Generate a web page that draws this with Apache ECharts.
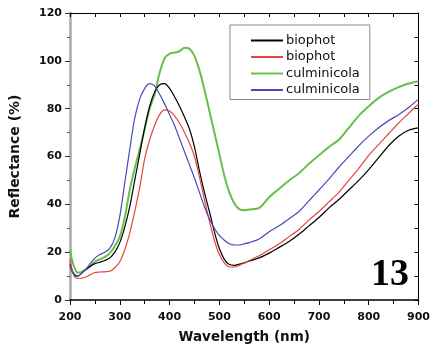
<!DOCTYPE html>
<html>
<head>
<meta charset="utf-8">
<script src="https://cdn.jsdelivr.net/npm/echarts@6/dist/echarts.min.js"></script>
<style>
  html, body { margin: 0; padding: 0; background: #fff; }
  #chart { width: 433px; height: 352px; }
</style>
</head>
<body>
<div id="chart"></div>
<script>
// wavelength samples (nm)
const wavelengths = [200, 205, 210, 215, 220, 230, 240, 250, 260, 270, 280, 290, 300, 310, 320, 330, 340, 350, 360, 370,
  380, 390, 400, 410, 420, 430, 440, 450, 460, 470, 480, 490, 500, 510, 520, 530, 540, 550, 560, 580,
  600, 620, 640, 660, 680, 700, 720, 740, 760, 780, 800, 820, 840, 860, 880, 900]

// reflectance (%)
const biophotBlack = [15, 12, 10.5, 10, 10.5, 12.5, 14, 15.2, 15.8, 16.5, 17.6, 20, 24, 30.5, 39, 50, 61, 72, 81, 87,
  90, 90.5, 88.5, 85, 81, 76.5, 71.5, 64, 54, 45, 37, 28.5, 21.5, 17, 14.8, 14.5, 15, 15.5, 16.3, 17.6,
  19.6, 22, 24.5, 27.5, 31, 34.5, 38.5, 42, 46, 50, 54.5, 59.5, 64.5, 68.5, 71, 72]
const biophotRed = [17, 12, 9.5, 9, 9, 9.5, 10.5, 11.5, 11.7, 11.8, 12, 13.5, 16, 21, 28, 37, 47, 59, 67, 73,
  77.5, 79.5, 79, 77, 74, 70, 65.5, 60, 51.5, 42, 33, 25, 19, 15.5, 13.8, 13.8, 14.5, 15.5, 16.5, 18.5,
  21, 23.5, 26.5, 29.5, 33.5, 37, 41, 45, 50, 55, 60.5, 65, 69.5, 74, 78, 82]
const culminicolaGreen = [21, 16, 13, 11.5, 11.5, 12.5, 14, 16, 17, 18, 19.6, 22.5, 26.5, 34.5, 46, 55, 63, 71.5, 80, 86,
  95, 101, 103, 103.5, 104, 105.5, 105, 102, 96, 88, 79, 70, 61, 52, 45, 40.5, 38, 37.5, 37.8, 38.5,
  43, 46.5, 50, 53, 57, 60.5, 64, 67, 72, 77, 81, 84.5, 87, 89, 90.5, 91.5]
const culminicolaBlue = [14, 11.5, 10, 9.8, 10.5, 12.5, 15, 17.5, 19, 20, 21.6, 26, 35, 49, 63, 76, 84, 88.5, 90.5, 89.5,
  86, 82, 77.5, 73, 67.5, 62, 56.5, 51, 45, 39, 34, 30, 27, 25, 23.5, 23, 23, 23.5, 24, 25.5,
  28.5, 31, 34, 37, 41.5, 46, 50.5, 55.5, 60, 64.5, 68.5, 72, 75, 77.5, 80.5, 84]

const seriesNames = ['biophot', 'biophot', 'culminicola', 'culminicola']
const seriesColors = ['#000000', '#e8453c', '#6abf4b', '#4a4ab8']
const seriesWidths = [1.2, 1.2, 2, 1.2]
const seriesValues = [biophotBlack, biophotRed, culminicolaGreen, culminicolaBlue]

const xTicks = [200, 300, 400, 500, 600, 700, 800, 900]
const yTicks = [0, 20, 40, 60, 80, 100, 120]

const AXIS_FONT = 'DejaVu Sans'

const chart = echarts.init(document.getElementById('chart'), null, { renderer: 'canvas' })

const pairs = (vals) => wavelengths.map((w, i) => [w, vals[i]])
// same label twice in the legend -> make names unique with zero-width spaces
const uniq = (n, i) => n + '\u200b'.repeat(i)

const baseX = {
  type: 'value',
  min: xTicks[0],
  max: xTicks[xTicks.length - 1],
  interval: 100,
  splitLine: { show: false },
  minorTick: { show: true, splitNumber: 2, length: 4, lineStyle: { color: '#000' } },
}
const baseY = {
  type: 'value',
  min: yTicks[0],
  max: yTicks[yTicks.length - 1],
  interval: 20,
  splitLine: { show: false },
  minorTick: { show: true, splitNumber: 2, length: 3, lineStyle: { color: '#555' } },
}

chart.setOption({
  animation: false,
  grid: { left: 70, right: 12, top: 13, bottom: 52 },
  xAxis: [
    {
      ...baseX,
      position: 'bottom',
      name: 'Wavelength (nm)',
      nameLocation: 'middle',
      nameGap: 30,
      nameTextStyle: { fontFamily: AXIS_FONT, fontWeight: 'bold', fontSize: 13.5, color: '#111' },
      axisLine: { lineStyle: { color: '#000', width: 1.5 } },
      axisTick: { length: 5, lineStyle: { color: '#000' } },
      axisLabel: { fontFamily: AXIS_FONT, fontWeight: 'bold', fontSize: 11, color: '#111', margin: 12 },
    },
    {
      ...baseX,
      position: 'top',
      axisLine: { onZero: false, lineStyle: { color: '#000', width: 1 } },
      axisTick: { inside: true, length: 4, lineStyle: { color: '#000' } },
      minorTick: { show: true, splitNumber: 2, length: 4, lineStyle: { color: '#000' } },
      axisLabel: { show: false },
    },
  ],
  yAxis: [
    {
      ...baseY,
      position: 'left',
      name: 'Reflectance (%)',
      nameLocation: 'middle',
      nameGap: 48,
      nameTextStyle: { fontFamily: AXIS_FONT, fontWeight: 'bold', fontSize: 14, color: '#111' },
      axisLine: { lineStyle: { color: '#a8a8a8', width: 2.5 } },
      axisTick: { length: 5, lineStyle: { color: '#333' } },
      axisLabel: { fontFamily: AXIS_FONT, fontWeight: 'bold', fontSize: 11, color: '#111', margin: 8 },
    },
    {
      ...baseY,
      position: 'right',
      axisLine: { show: true, onZero: false, lineStyle: { color: '#000', width: 1 } },
      axisTick: { show: true, inside: true, length: 4, lineStyle: { color: '#000' } },
      minorTick: { show: true, splitNumber: 2, length: 4, lineStyle: { color: '#000' } },
      axisLabel: { show: false },
    },
  ],
  legend: {
    orient: 'vertical',
    left: 230,
    top: 25,
    padding: [9, 10, 3, 20],
    itemWidth: 32,
    itemHeight: 14,
    itemGap: 3.5,
    itemStyle: { opacity: 0 },
    backgroundColor: '#fff',
    borderColor: '#8a8a8a',
    borderWidth: 1,
    textStyle: { fontFamily: AXIS_FONT, fontSize: 13, color: '#111', padding: [0, 0, 0, -2] },
    data: seriesNames.map((n, i) => ({ name: uniq(n, i) })),
  },
  graphic: [
    {
      type: 'text',
      left: 371,
      top: 256,
      style: { text: '13', font: 'bold 38px "Liberation Serif"', fill: '#000' },
    },
  ],
  series: seriesValues.map((vals, i) => ({
    type: 'line',
    name: uniq(seriesNames[i], i),
    data: pairs(vals),
    symbol: 'none',
    smooth: 0.3,
    lineStyle: { color: seriesColors[i], width: seriesWidths[i] },
    itemStyle: { color: seriesColors[i] },
    z: i === 2 ? 2 : 3,
  })),
})
</script>
</body>
</html>
